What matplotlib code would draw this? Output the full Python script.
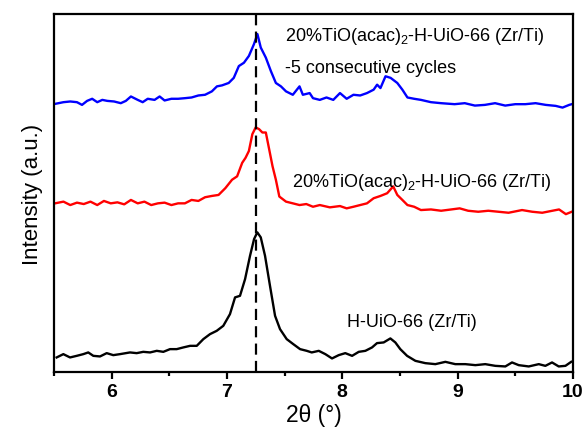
import matplotlib
matplotlib.use("Agg")
import matplotlib.pyplot as plt
from matplotlib.ticker import MultipleLocator

plt.rcParams["font.family"] = ["Liberation Sans", "DejaVu Sans"]
plt.rcParams["mathtext.default"] = "regular"

# H-UiO-66 (Zr/Ti) -- black, bottom trace
two_theta_h = [5.523, 5.581, 5.639, 5.697, 5.754, 5.797, 5.841, 5.899, 5.957, 6.014,
               6.072, 6.159, 6.217, 6.274, 6.333, 6.391, 6.448, 6.506, 6.564, 6.621,
               6.680, 6.738, 6.795, 6.853, 6.911, 6.968, 7.026, 7.070, 7.113, 7.157,
               7.200, 7.235, 7.263, 7.293, 7.330, 7.373, 7.417, 7.460, 7.518, 7.575,
               7.634, 7.692, 7.735, 7.796, 7.853, 7.911, 7.969, 8.026, 8.085, 8.143,
               8.200, 8.258, 8.301, 8.359, 8.417, 8.460, 8.503, 8.562, 8.634, 8.720,
               8.807, 8.894, 8.980, 9.067, 9.154, 9.240, 9.327, 9.414, 9.472, 9.530,
               9.617, 9.704, 9.761, 9.819, 9.877, 9.935, 9.985]
int_h = [14.7, 18.0, 14.7, 16.3, 18.0, 19.7, 16.3, 15.7, 19.0, 17.0,
         18.0, 19.7, 19.0, 20.3, 19.7, 21.3, 20.3, 23.0, 23.0, 24.7,
         26.3, 26.3, 33.0, 38.0, 41.3, 46.3, 58.0, 74.7, 76.3, 93.0,
         116.3, 133.0, 139.7, 134.7, 116.3, 86.3, 56.3, 43.0, 33.0, 28.0,
         23.0, 21.3, 19.7, 21.3, 18.0, 13.7, 17.0, 19.0, 16.3, 20.3,
         21.3, 24.7, 29.0, 29.7, 33.7, 29.7, 23.0, 16.3, 11.3, 9.0,
         8.0, 10.3, 8.0, 8.0, 7.0, 8.0, 6.3, 5.7, 9.7, 7.0,
         5.7, 8.0, 6.3, 9.7, 5.7, 6.3, 10.3]

# 20%TiO(acac)2-H-UiO-66 (Zr/Ti) -- red, middle trace
two_theta_t = [5.509, 5.582, 5.641, 5.699, 5.758, 5.816, 5.875, 5.933, 5.992, 6.050,
               6.109, 6.167, 6.226, 6.284, 6.343, 6.401, 6.459, 6.518, 6.576, 6.635,
               6.693, 6.752, 6.810, 6.869, 6.927, 6.986, 7.044, 7.088, 7.132, 7.161,
               7.190, 7.220, 7.249, 7.278, 7.307, 7.337, 7.366, 7.395, 7.424, 7.454,
               7.512, 7.571, 7.629, 7.688, 7.746, 7.805, 7.892, 7.980, 8.038, 8.097,
               8.155, 8.214, 8.272, 8.331, 8.389, 8.442, 8.477, 8.521, 8.565, 8.623,
               8.682, 8.769, 8.857, 8.945, 9.018, 9.091, 9.179, 9.266, 9.354, 9.442,
               9.559, 9.647, 9.734, 9.822, 9.880, 9.939, 9.990]
int_t = [168.7, 170.4, 167.0, 169.4, 168.0, 170.4, 167.0, 171.1, 168.7, 169.7,
         167.7, 172.1, 168.7, 170.4, 167.0, 168.7, 169.4, 167.0, 168.7, 168.7,
         172.1, 171.1, 174.8, 176.1, 177.1, 183.9, 192.3, 195.7, 209.2, 214.2,
         221.0, 237.8, 244.6, 242.9, 239.5, 239.5, 222.7, 205.8, 192.3, 175.5,
         170.4, 168.7, 167.0, 168.0, 165.3, 167.0, 164.7, 166.0, 163.7, 165.3,
         167.0, 168.7, 173.8, 176.1, 178.8, 185.6, 177.1, 172.1, 167.0, 165.3,
         162.0, 162.6, 161.3, 162.6, 163.7, 161.3, 160.3, 161.3, 160.3, 159.3,
         162.0, 160.3, 159.3, 161.3, 162.6, 157.9, 160.3]

# 20%TiO(acac)2-H-UiO-66 (Zr/Ti) after 5 cycles -- blue, top trace
two_theta_c = [5.509, 5.582, 5.641, 5.699, 5.743, 5.787, 5.831, 5.875, 5.919, 5.962,
               6.021, 6.079, 6.123, 6.167, 6.226, 6.269, 6.313, 6.372, 6.416, 6.459,
               6.518, 6.576, 6.635, 6.693, 6.752, 6.810, 6.869, 6.913, 6.957, 7.015,
               7.059, 7.103, 7.147, 7.190, 7.234, 7.264, 7.293, 7.337, 7.381, 7.424,
               7.468, 7.512, 7.571, 7.629, 7.658, 7.717, 7.746, 7.805, 7.863, 7.922,
               7.980, 8.038, 8.097, 8.155, 8.214, 8.272, 8.302, 8.331, 8.375, 8.419,
               8.477, 8.521, 8.565, 8.623, 8.682, 8.769, 8.857, 8.974, 9.062, 9.150,
               9.237, 9.325, 9.413, 9.500, 9.588, 9.676, 9.764, 9.851, 9.910, 9.968,
               9.990]
int_c = [268.1, 269.8, 270.5, 269.8, 267.1, 271.1, 273.2, 269.8, 272.1, 271.1,
         270.5, 268.8, 271.1, 275.5, 272.1, 269.8, 273.2, 272.1, 275.5, 271.5,
         273.2, 273.2, 273.8, 274.5, 276.5, 277.2, 280.6, 285.6, 286.6, 289.0,
         294.1, 305.9, 309.2, 316.0, 327.8, 337.9, 324.4, 314.3, 300.8, 289.0,
         285.6, 280.6, 277.2, 285.6, 277.2, 278.9, 273.8, 272.1, 274.5, 272.1,
         278.9, 273.2, 277.2, 276.5, 278.9, 282.3, 287.3, 283.9, 295.7, 294.1,
         289.0, 282.3, 274.5, 273.2, 272.1, 269.8, 268.8, 267.8, 268.8, 266.4,
         267.1, 268.8, 266.4, 267.8, 267.8, 268.8, 267.1, 266.1, 264.4, 267.1,
         267.8]

ref_peak = 7.25

fig = plt.figure(figsize=(5.87, 4.39), dpi=100)
ax = fig.add_axes([0.092, 0.150, 0.884, 0.816])

ax.plot(two_theta_h, int_h, color="black", lw=1.7)
ax.plot(two_theta_t, int_t, color="#ff0000", lw=1.7)
ax.plot(two_theta_c, int_c, color="#0000ff", lw=1.7)
ax.axvline(ref_peak, color="black", lw=1.6, ls=(0, (5, 2.8)), zorder=5)

label_fs = 13
ax.text(8.04, 51, "H-UiO-66 (Zr/Ti)", fontsize=label_fs, va="center")
ax.text(7.56, 191, "20%TiO(acac)$_2$-H-UiO-66 (Zr/Ti)", fontsize=label_fs, va="center")
ax.text(7.50, 336, "20%TiO(acac)$_2$-H-UiO-66 (Zr/Ti)", fontsize=label_fs, va="center")
ax.text(7.50, 304, "-5 consecutive cycles", fontsize=label_fs, va="center")

ax.set_xlim(5.5, 10)
ax.set_ylim(0, 358)
ax.set_yticks([])
ax.xaxis.set_major_locator(MultipleLocator(1))
ax.xaxis.set_minor_locator(MultipleLocator(0.5))
ax.tick_params(axis="x", which="major", direction="out", length=5, width=1.6,
               labelsize=14, pad=3)
ax.tick_params(axis="x", which="minor", direction="out", length=3, width=1.6)
for lab in ax.get_xticklabels():
    lab.set_fontweight("bold")
for sp in ax.spines.values():
    sp.set_linewidth(1.6)

ax.set_xlabel("2θ (°)", fontsize=16.5, labelpad=2)
ax.set_ylabel("Intensity (a.u.)", fontsize=16, labelpad=8)

fig.savefig("out.png", dpi=100, facecolor="white")
